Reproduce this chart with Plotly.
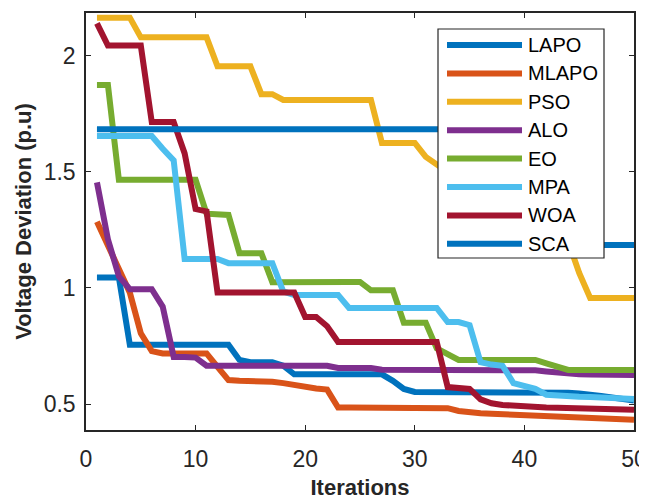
import plotly.graph_objects as go

# ---------------- data ----------------
iterations = list(range(1, 51))

names = ["LAPO", "MLAPO", "PSO", "ALO", "EO", "MPA", "WOA", "SCA"]
colors = ["#0072BD", "#D95319", "#EDB120", "#7E2F8E", "#77AC30", "#4DBEEE", "#A2142F", "#0072BD"]

LAPO = [1.045] * 3 + [0.755] * 10 + [0.69] + [0.68] * 3 + [0.665] + [0.628] * 9 + [0.60, 0.565] \
    + [0.552] * 14 + [0.548, 0.545, 0.543] + [0.535, 0.528, 0.522, 0.515]

MLAPO = [1.285, 1.18, 1.09, 0.98, 0.805, 0.728] + [0.718] * 5 \
    + [0.66, 0.603, 0.60, 0.60, 0.598, 0.596, 0.59, 0.582, 0.57, 0.567, 0.562] \
    + [0.485] * 10 + [0.482, 0.47, 0.462] \
    + [0.46, 0.458, 0.456, 0.455, 0.453, 0.452, 0.45, 0.448, 0.446, 0.444, 0.442, 0.44, 0.438, 0.435, 0.432]

PSO = [2.165] * 4 + [2.08] * 7 + [1.955] * 4 + [1.835] * 2 + [1.81] * 9 + [1.625] * 4 \
    + [1.565, 1.53, 1.50, 1.47, 1.45, 1.42, 1.40, 1.38, 1.35, 1.33, 1.30, 1.28, 1.25, 1.20, 1.065] \
    + [0.957] * 5

ALO = [1.455, 1.21, 1.05, 0.995, 0.995, 0.995, 0.92, 0.703, 0.703, 0.70, 0.665] + [0.665] * 11 \
    + [0.655] * 4 + [0.648] * 14 + [0.645, 0.64, 0.635] + [0.63, 0.628, 0.627, 0.626, 0.625, 0.625, 0.625]

EO = [1.875, 1.875, 1.466] + [1.466] * 7 + [1.32, 1.315, 1.315, 1.15, 1.15, 1.15, 1.025] \
    + [1.026] * 8 + [0.99] * 3 + [0.85] * 3 + [0.74, 0.715] + [0.69] * 8 + [0.675, 0.66] + [0.647] * 7

MPA = [1.655] * 6 + [1.60, 1.55, 1.125] + [1.125] * 3 + [1.107] * 5 + [0.985] + [0.97] * 5 \
    + [0.914] * 9 + [0.853] * 2 + [0.84, 0.68, 0.67, 0.665, 0.59, 0.575, 0.565, 0.54] \
    + [0.535, 0.533, 0.531, 0.53, 0.528, 0.526, 0.524, 0.522]

WOA = [2.14] + [2.045] * 4 + [1.715] * 3 + [1.58, 1.34, 1.33] + [0.98] * 8 + [0.875] * 2 + [0.835] \
    + [0.767] * 10 + [0.573, 0.57, 0.565, 0.52, 0.503, 0.496, 0.492, 0.489] \
    + [0.487, 0.485, 0.484, 0.482, 0.481, 0.48, 0.479, 0.477, 0.476, 0.475]

SCA = [1.684] * 41 + [1.185] * 9

series = [LAPO, MLAPO, PSO, ALO, EO, MPA, WOA, SCA]

x_ticks = [0, 10, 20, 30, 40, 50]
y_ticks = [0.5, 1, 1.5, 2]
x_range = [0, 50]
y_range = [0.388, 2.185]

# ---------------- figure ----------------
# The page body has an 8px default margin, so the figure is sized/placed to compensate.
OFF = 8
WIN_W, WIN_H = 647, 500
W, H = WIN_W - OFF, WIN_H - OFF
# plot-area edges as seen in the window (pixels)
PL, PR, PT, PB = 86, 634, 13, 430
AX = "#262626"
FONT = "Liberation Sans, Arial, Helvetica, sans-serif"

fig = go.Figure()
for name, col, vals in zip(names, colors, series):
    fig.add_trace(go.Scatter(x=iterations, y=vals, mode="lines", name=name,
                             line=dict(color=col, width=6), showlegend=False))

axis_common = dict(showline=True, linecolor=AX, linewidth=1.5, mirror="ticks",
                   ticks="inside", ticklen=5, tickwidth=1.2, tickcolor=AX,
                   showgrid=False, zeroline=False,
                   tickfont=dict(family=FONT, size=23, color=AX))

fig.update_layout(
    width=W, height=H,
    margin=dict(l=PL - OFF, r=W - (PR - OFF), t=PT - OFF, b=H - (PB - OFF), autoexpand=False),
    plot_bgcolor="white", paper_bgcolor="white",
    showlegend=False,
    font=dict(family=FONT, color=AX),
    xaxis=dict(range=x_range, tickvals=x_ticks, ticklabelstandoff=8,
               title=dict(text="<b>Iterations</b>", font=dict(family=FONT, size=22, color=AX), standoff=14),
               **axis_common),
    yaxis=dict(range=y_range, tickvals=y_ticks, ticklabelstandoff=4,
               title=dict(text="<b>Voltage Deviation (p.u)</b>", font=dict(family=FONT, size=22, color=AX), standoff=6),
               **axis_common),
)

# ---------------- legend (drawn in the MATLAB style) ----------------
def px_x(p):
    return (p - PL) / (PR - PL)

def px_y(p):
    return (PB - p) / (PB - PT)

LEG_L, LEG_R, LEG_T, LEG_B = 438, 604, 29, 258
ROW0, ROW_STEP = 45, 28.4
SAMPLE_L, SAMPLE_R, TEXT_L = 447, 522, 526

fig.add_shape(type="rect", xref="paper", yref="paper",
              x0=px_x(LEG_L), x1=px_x(LEG_R), y0=px_y(LEG_B), y1=px_y(LEG_T),
              fillcolor="white", line=dict(color=AX, width=1.2), layer="above")
for k, (name, col) in enumerate(zip(names, colors)):
    yc = px_y(ROW0 + ROW_STEP * k)
    fig.add_shape(type="line", xref="paper", yref="paper",
                  x0=px_x(SAMPLE_L), x1=px_x(SAMPLE_R), y0=yc, y1=yc,
                  line=dict(color=col, width=6), layer="above")
    fig.add_annotation(xref="paper", yref="paper", x=px_x(TEXT_L), y=yc,
                       text=name, showarrow=False, xanchor="left", yanchor="middle",
                       font=dict(family=FONT, size=20, color="#000000"))

fig.write_html("out.html")
